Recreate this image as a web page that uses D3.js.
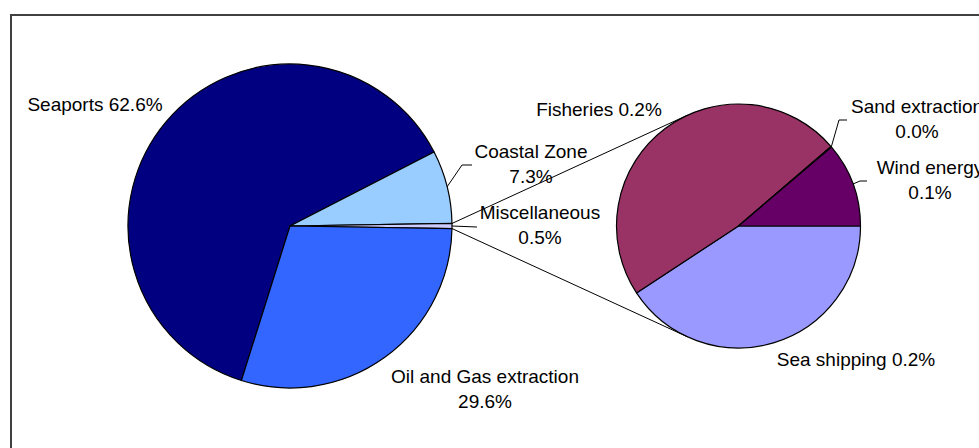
<!DOCTYPE html>
<html>
<head>
<meta charset="utf-8">
<script src="https://cdn.jsdelivr.net/npm/d3@7"></script>
<style>
  html, body { margin: 0; padding: 0; background: #fff; overflow: hidden; }
  svg { display: block; }
  text { font-family: Arial, "Liberation Sans", sans-serif; font-size: 19px; fill: #000; }
</style>
</head>
<body>
<svg id="chart" width="979" height="448"></svg>
<script>
// Main pie: share of each sector (percent of total), in clockwise order
const mainCategories = ["Seaports", "Coastal Zone", "Miscellaneous", "Oil and Gas extraction"];
const mainValues = [62.6, 7.3, 0.5, 29.6];
const mainColors = ["#000080", "#99CCFF", "#CCCCFF", "#3366FF"];

// Secondary pie: breakdown of the "Miscellaneous" slice (percent of total)
const subCategories = ["Sea shipping", "Fisheries", "Sand extraction", "Wind energy"];
const subValues = [0.204, 0.24, 0.0005, 0.056];
const subColors = ["#9999FF", "#993366", "#FFFFCC", "#660066"];

const otherName = "Miscellaneous";

const svg = d3.select("#chart");

// Chart frame
svg.append("rect")
  .attr("x", 11).attr("y", 15)
  .attr("width", 1200).attr("height", 600)
  .attr("fill", "none").attr("stroke", "#404040").attr("stroke-width", 2);

const main = { cx: 290, cy: 226, r: 162 };
const sub = { cx: 738.5, cy: 226, r: 122 };

const fmt = v => v.toFixed(1) + "%";

// Rotate the main pie so the "other" slice is centred at 3 o'clock
const total = d3.sum(mainValues);
const otherIdx = mainCategories.indexOf(otherName);
const before = d3.sum(mainValues.slice(0, otherIdx));
const angleScale = d3.scaleLinear().domain([0, total]).range([0, 2 * Math.PI]);
const mainStart = Math.PI / 2 - angleScale(before + mainValues[otherIdx] / 2);

const mainPie = d3.pie().sort(null).value(d => d.value)
  .startAngle(mainStart).endAngle(mainStart + 2 * Math.PI);
const subPie = d3.pie().sort(null).value(d => d.value)
  .startAngle(Math.PI / 2).endAngle(Math.PI / 2 + 2 * Math.PI);

const mainData = mainCategories.map((c, i) => ({ name: c, value: mainValues[i], color: mainColors[i] }));
const subData = subCategories.map((c, i) => ({ name: c, value: subValues[i], color: subColors[i] }));

const mainArcs = mainPie(mainData);
const subArcs = subPie(subData);

const mainArc = d3.arc().innerRadius(0).outerRadius(main.r);
const subArc = d3.arc().innerRadius(0).outerRadius(sub.r);

const gMain = svg.append("g").attr("transform", `translate(${main.cx},${main.cy})`);
const gSub = svg.append("g").attr("transform", `translate(${sub.cx},${sub.cy})`);

gMain.selectAll("path").data(mainArcs).join("path")
  .attr("d", mainArc)
  .attr("fill", d => d.data.color)
  .attr("stroke", "#000").attr("stroke-width", 1.2).attr("stroke-linejoin", "round");

gSub.selectAll("path").data(subArcs).join("path")
  .attr("d", subArc)
  .attr("fill", d => d.data.color)
  .attr("stroke", "#000").attr("stroke-width", 1.2).attr("stroke-linejoin", "round");

// Point on a circle for a d3 pie angle (0 = 12 o'clock, clockwise)
const polar = (c, r, a) => [c.cx + r * Math.sin(a), c.cy - r * Math.cos(a)];

// Connector lines: from the edges of the "other" slice to the tangents of the second pie
const otherArc = mainArcs[otherIdx];
function tangentPoint(p, c, upper) {
  const dx = p[0] - c.cx, dy = p[1] - c.cy;
  const d = Math.hypot(dx, dy);
  const base = Math.atan2(dy, dx);
  const off = Math.acos(c.r / d);
  const a = upper ? base + off : base - off;
  return [c.cx + c.r * Math.cos(a), c.cy + c.r * Math.sin(a)];
}
const pTop = polar(main, main.r, otherArc.startAngle);
const pBot = polar(main, main.r, otherArc.endAngle);
const tTop = tangentPoint(pTop, sub, true);
const tBot = tangentPoint(pBot, sub, false);
[[pTop, tTop], [pBot, tBot]].forEach(([a, b]) => {
  svg.append("line")
    .attr("x1", a[0]).attr("y1", a[1]).attr("x2", b[0]).attr("y2", b[1])
    .attr("stroke", "#000").attr("stroke-width", 1);
});

// Label layout: text centre and first baseline relative to each pie centre,
// optional leader elbow/end points relative to the same centre
const labelLayout = {
  "Seaports": { dx: -195, dy: -115, oneLine: true },
  "Coastal Zone": { dx: 241, dy: -68, leader: [[172, -61], [182, -61]] },
  "Miscellaneous": { dx: 250, dy: -7, leader: [[187, 1]] },
  "Oil and Gas extraction": { dx: 195, dy: 157 },
  "Fisheries": { dx: -139.5, dy: -110, oneLine: true },
  "Sand extraction": { dx: 178.5, dy: -113, leader: [[100.5, -106], [108.5, -106]] },
  "Wind energy": { dx: 191.5, dy: -52, leader: [[121.5, -45], [128.5, -45]] },
  "Sea shipping": { dx: 117.5, dy: 140, oneLine: true }
};
const lineGap = 25;

function drawLabels(arcs, c) {
  arcs.forEach(a => {
    const L = labelLayout[a.data.name];
    if (!L) return;
    const x = c.cx + L.dx, y = c.cy + L.dy;
    const t = svg.append("text").attr("text-anchor", "middle");
    if (L.oneLine) {
      t.append("tspan").attr("x", x).attr("y", y).text(`${a.data.name} ${fmt(a.data.value)}`);
    } else {
      t.append("tspan").attr("x", x).attr("y", y).text(a.data.name);
      t.append("tspan").attr("x", x).attr("y", y + lineGap).text(fmt(a.data.value));
    }
    if (L.leader) {
      const mid = (a.startAngle + a.endAngle) / 2;
      const pts = [polar(c, c.r, mid)].concat(L.leader.map(p => [c.cx + p[0], c.cy + p[1]]));
      svg.append("path")
        .attr("d", d3.line()(pts))
        .attr("fill", "none").attr("stroke", "#000").attr("stroke-width", 1);
    }
  });
}
drawLabels(mainArcs, main);
drawLabels(subArcs, sub);
</script>
</body>
</html>
